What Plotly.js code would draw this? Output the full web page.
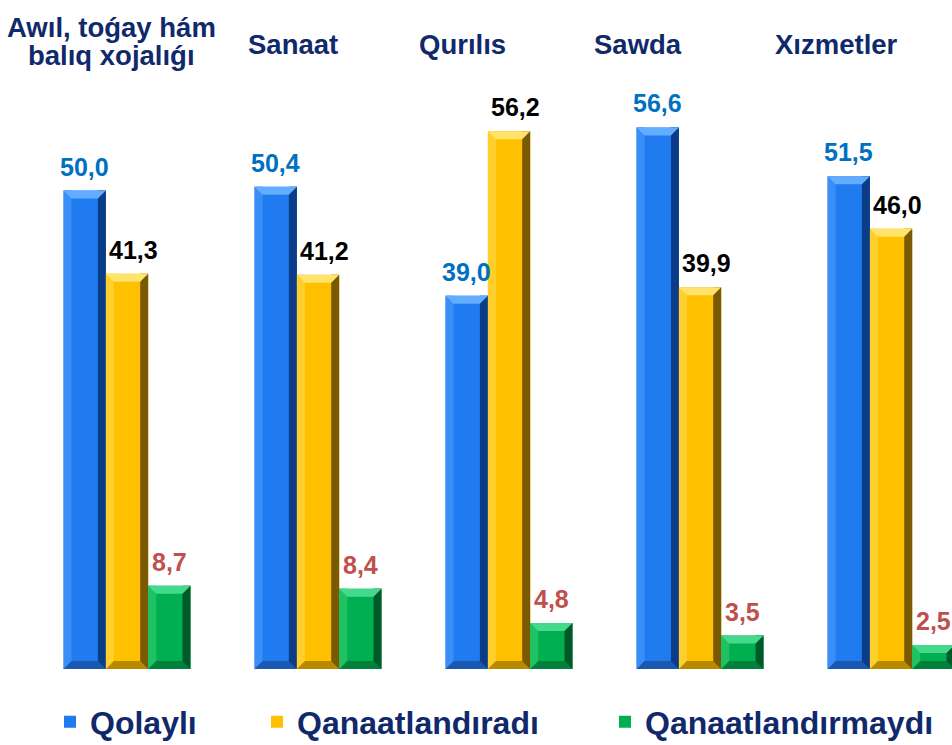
<!DOCTYPE html>
<html>
<head>
<meta charset="utf-8">
<script src="https://cdn.plot.ly/plotly-3.0.1.min.js"></script>
<style>html,body{margin:0;padding:0;background:#fff;}#chart{width:952px;height:745px;}</style>
</head>
<body>
<div id="chart"></div>
<script>
// ---- data ----
var categories = ["Awıl, toǵay hám balıq xojalıǵı", "Sanaat", "Qurılıs", "Sawda", "Xızmetler"];
var seriesNames = ["Qolaylı", "Qanaatlandıradı", "Qanaatlandırmaydı"];
var qolayli = [50.0, 50.4, 39.0, 56.6, 51.5];
var qanaatlandiradi = [41.3, 41.2, 56.2, 39.9, 46.0];
var qanaatlandirmaydi = [8.7, 8.4, 4.8, 3.5, 2.5];

// ---- styles ----
var FONT = "Liberation Sans, Arial, sans-serif";
var NAVY = "#10296b";
var seriesValues = [qolayli, qanaatlandiradi, qanaatlandirmaydi];
var mainColors = ["#1f7bef", "#ffc000", "#00b050"];
var topColors = ["#62adff", "#ffe36a", "#45d98e"];
var leftColors = ["#3a8ef7", "#ffcf2e", "#1fc263"];
var rightColors = ["#0b3c88", "#7a5900", "#005a28"];
var bottomColors = ["#1b58b0", "#b88a00", "#00803c"];
var labelColors = ["#0070c0", "#000000", "#c0504d"];
var labelXShift = [0, 6, 0];
var legendIds = ["legend", "legend2", "legend3"];
var legendX = [50, 257, 605];

var W = 952, H = 745;
var xRange = [-0.665, 4.319];
var bargap = 0.3355;
var idx = categories.map(function (c, i) { return i; });

var traces = seriesValues.map(function (vals, s) {
  return {
    type: "bar",
    name: seriesNames[s],
    legend: legendIds[s],
    x: idx,
    y: vals,
    marker: { color: mainColors[s], line: { width: 0 } },
    hoverinfo: "skip"
  };
});

var barW = (1 - bargap) / 3;
var pxPerX = W / (xRange[1] - xRange[0]);
var hp = barW * pxPerX / 2; // half bar width in px
var b = 8; // bevel size in px

var shapes = [];
var annotations = [];
seriesValues.forEach(function (vals, s) {
  vals.forEach(function (v, i) {
    var xc = i + (s - 1) * barW;
    shapes.push({ type: "rect", xref: "x", yref: "y", xsizemode: "pixel", xanchor: xc,
      x0: -hp, x1: -hp + b, y0: 0, y1: v, fillcolor: leftColors[s], line: { width: 0 }, layer: "above" });
    shapes.push({ type: "rect", xref: "x", yref: "y", xsizemode: "pixel", xanchor: xc,
      x0: hp - b, x1: hp, y0: 0, y1: v, fillcolor: rightColors[s], line: { width: 0 }, layer: "above" });
    shapes.push({ type: "path", xref: "x", yref: "y", xsizemode: "pixel", ysizemode: "pixel",
      xanchor: xc, yanchor: v,
      path: "M" + (-hp) + ",0 L" + hp + ",0 L" + (hp - b) + "," + (-b) + " L" + (-hp + b) + "," + (-b) + " Z",
      fillcolor: topColors[s], line: { width: 0 }, layer: "above" });
    shapes.push({ type: "path", xref: "x", yref: "y", xsizemode: "pixel", ysizemode: "pixel",
      xanchor: xc, yanchor: 0,
      path: "M" + (-hp) + ",0 L" + hp + ",0 L" + (hp - b) + "," + b + " L" + (-hp + b) + "," + b + " Z",
      fillcolor: bottomColors[s], line: { width: 0 }, layer: "above" });
    annotations.push({ xref: "x", yref: "y", x: xc, y: v, xanchor: "center", yanchor: "bottom",
      xshift: labelXShift[s], yshift: 8, showarrow: false, text: v.toFixed(1).replace(".", ","),
      font: { family: FONT, size: 25, color: labelColors[s], weight: "bold" } });
  });
});

var titleSpec = [
  { t: "Awıl, toǵay hám", x: 111, y: 27 },
  { t: "balıq xojalıǵı", x: 111, y: 56 },
  { t: categories[1], x: 293, y: 44 },
  { t: categories[2], x: 462, y: 44 },
  { t: categories[3], x: 638, y: 44 },
  { t: categories[4], x: 836, y: 44 }
];
titleSpec.forEach(function (o) {
  annotations.push({ xref: "paper", yref: "paper", x: o.x / W, y: 1 - o.y / H,
    xanchor: "center", yanchor: "middle", showarrow: false, text: o.t,
    font: { family: FONT, size: 27.5, color: NAVY, weight: "bold" } });
});

var layout = {
  width: W, height: H,
  margin: { l: 0, r: 0, t: 0, b: 0, pad: 0, autoexpand: false },
  paper_bgcolor: "#ffffff", plot_bgcolor: "#ffffff",
  barmode: "group", bargap: bargap, bargroupgap: 0,
  xaxis: { range: xRange, showgrid: false, zeroline: false, showticklabels: false, ticks: "", showline: false, fixedrange: true },
  yaxis: { range: [0, 60], domain: [0.102, 0.8727], showgrid: false, zeroline: false, showticklabels: false, ticks: "", showline: false, fixedrange: true },
  showlegend: true,
  shapes: shapes,
  annotations: annotations
};
legendIds.forEach(function (id, s) {
  layout[id] = { orientation: "h", x: legendX[s] / W, xanchor: "left", y: 1 - 722 / H, yanchor: "middle",
    font: { family: FONT, size: 32, color: NAVY, weight: "bold" }, bgcolor: "rgba(0,0,0,0)", borderwidth: 0 };
});

Plotly.newPlot("chart", traces, layout, { displayModeBar: false, staticPlot: true });
</script>
</body>
</html>
